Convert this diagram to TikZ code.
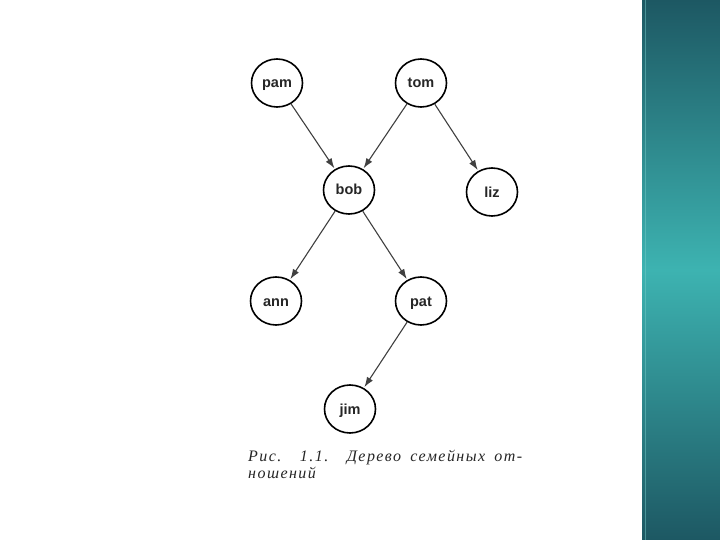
\documentclass[tikz,border=0pt]{standalone}
\usepackage{fontspec}
\setmainfont{Liberation Serif}
\newfontfamily\nodefont{Liberation Sans}
\newfontfamily\capfont[LetterSpace=9]{Liberation Serif}
\usetikzlibrary{arrows.meta,shapes.geometric}
\definecolor{barDark}{HTML}{1D5863}
\definecolor{barMid}{HTML}{3DB3B1}
\definecolor{edgeGray}{HTML}{404040}
\tikzset{
  person/.style={draw=black, line width=1.6pt, ellipse, minimum width=51pt, minimum height=48pt, inner sep=0pt, text height=10pt, text depth=0pt, font=\nodefont\bfseries\fontsize{14.5}{16}\selectfont, text=black!85},
  rel/.style={draw=edgeGray, line width=1.1pt, -{Latex[length=10pt,width=7pt]}, shorten >=1pt}
}
\begin{document}
\begin{tikzpicture}[x=1pt,y=-1pt]
\useasboundingbox (0,0) rectangle (720,540);
\fill[white] (0,0) rectangle (720,540);
\shade[top color=barDark, bottom color=barMid] (642,0) rectangle (720,270);
\shade[top color=barMid, bottom color=barDark] (642,270) rectangle (720,540);
\draw[barMid!70!white, line width=1pt, opacity=0.5] (645,0) -- (645,540);
\node[person] (pam) at (277,83) {pam};
\node[person] (tom) at (421,83) {tom};
\node[person] (bob) at (349,190) {bob};
\node[person] (liz) at (492,192) {liz};
\node[person] (ann) at (276,301) {ann};
\node[person] (pat) at (421,301) {pat};
\node[person] (jim) at (350,409) {jim};
\draw[rel] (pam) -- (bob);
\draw[rel] (tom) -- (bob);
\draw[rel] (tom) -- (liz);
\draw[rel] (bob) -- (ann);
\draw[rel] (bob) -- (pat);
\draw[rel] (pat) -- (jim);
\node[anchor=west, font=\capfont\itshape\fontsize{16}{17}\selectfont, text=black!85, align=left, inner sep=0pt] (cap) at (248,464) {\makebox[274pt][s]{Рис. 1.1. Дерево семейных от-}\\ношений};
\end{tikzpicture}
\end{document}
